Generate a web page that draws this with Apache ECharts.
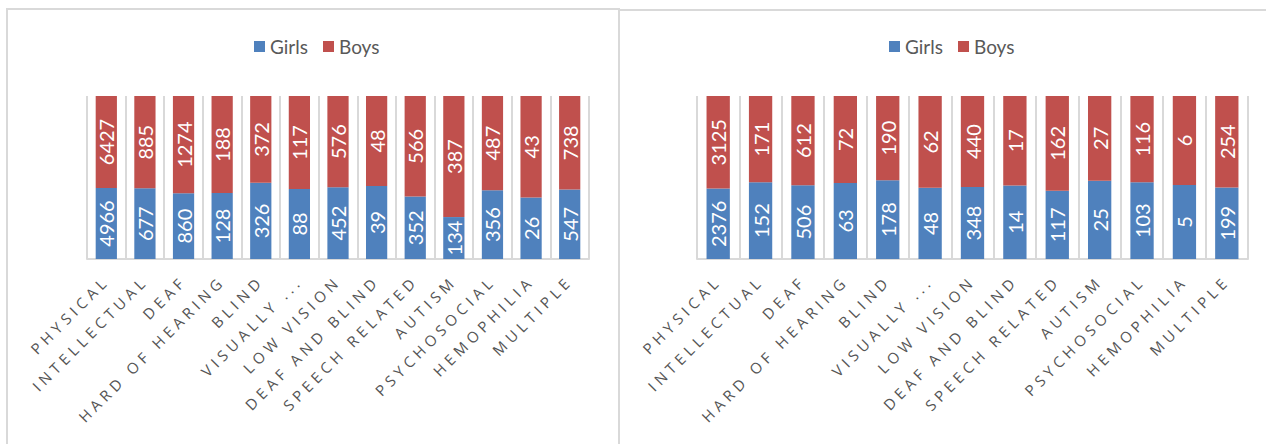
<!DOCTYPE html>
<html>
<head>
<meta charset="utf-8">
<script src="https://cdn.jsdelivr.net/npm/echarts@6/dist/echarts.min.js"></script>
<style>
  html, body { margin: 0; padding: 0; background: #fff; overflow: hidden; }
  #panelLeft { position: absolute; left: 6px; top: 8px; width: 614px; height: 500px; border: 2px solid #d9d9d9; box-sizing: border-box; }
  #panelRight { position: absolute; left: 620px; top: 9px; width: 700px; height: 500px; border-top: 2px solid #d9d9d9; box-sizing: border-box; }
  #chart { position: absolute; left: 0; top: 0; width: 1266px; height: 444px; }
  /* spaced-out category labels */
  #chart text[text-anchor="end"] { letter-spacing: 4.5px; }
</style>
</head>
<body>
<div id="panelLeft"></div>
<div id="panelRight"></div>
<div id="chart"></div>
<script>
const categories = ['PHYSICAL', 'INTELLECTUAL', 'DEAF', 'HARD OF HEARING', 'BLIND', 'VISUALLY ...',
  'LOW VISION', 'DEAF AND BLIND', 'SPEECH RELATED', 'AUTISM', 'PSYCHOSOCIAL', 'HEMOPHILIA', 'MULTIPLE'];

const leftGirls = [4966, 677, 860, 128, 326, 88, 452, 39, 352, 134, 356, 26, 547];
const leftBoys = [6427, 885, 1274, 188, 372, 117, 576, 48, 566, 387, 487, 43, 738];

const rightGirls = [2376, 152, 506, 63, 178, 48, 348, 14, 117, 25, 103, 5, 199];
const rightBoys = [3125, 171, 612, 72, 190, 62, 440, 17, 162, 27, 116, 6, 254];

const BLUE = '#4F81BD';
const RED = '#C0504D';

function share(part, other){
  return part.map((v, i) => v / (v + other[i]) * 100);
}

function makeSeries(name, raw, other, color, idx){
  return {
    name,
    type: 'bar',
    stack: 'total' + idx,
    xAxisIndex: idx,
    yAxisIndex: idx,
    barWidth: '55%',
    itemStyle: { color },
    label: {
      show: true,
      position: 'inside',
      rotate: 90,
      color: '#fff',
      fontFamily: 'Lato',
      fontSize: 20,
      formatter: (p) => raw[p.dataIndex]
    },
    data: share(raw, other)
  }
}

function xAxis(idx){
  return {
    type: 'category',
    gridIndex: idx,
    data: categories,
    axisLine: { lineStyle: { color: '#d9d9d9', width: 2 } },
    axisTick: { show: false },
    splitLine: { show: true, lineStyle: { color: '#d9d9d9', width: 2 } },
    axisLabel: {
      interval: 0,
      rotate: 45,
      margin: 19,
      color: '#555555',
      fontFamily: 'Open Sans',
      fontSize: 15
    }
  }
}

function yAxis(idx){
  return {
    type: 'value',
    gridIndex: idx,
    min: 0,
    max: 100,
    show: false,
    splitLine: { show: false }
  }
}

function legend(left){
  return {
    left,
    top: 32,
    itemWidth: 11,
    itemHeight: 11,
    itemGap: 15,
    icon: 'rect',
    data: ['Girls', 'Boys'],
    textStyle: { color: '#595959', fontFamily: 'Lato', fontSize: 19 }
  }
}

const chart = echarts.init(document.getElementById('chart'), null, { renderer: 'svg' });
chart.setOption({
  animation: false,
  backgroundColor: 'transparent',
  legend: [legend(249), legend(884)],
  grid: [
    { left: 87, right: 1266 - 589, top: 96, bottom: 444 - 259 },
    { left: 697, right: 1266 - 1248, top: 96, bottom: 444 - 259 }
  ],
  xAxis: [xAxis(0), xAxis(1)],
  yAxis: [yAxis(0), yAxis(1)],
  series: [
    makeSeries('Girls', leftGirls, leftBoys, BLUE, 0),
    makeSeries('Boys', leftBoys, leftGirls, RED, 0),
    makeSeries('Girls', rightGirls, rightBoys, BLUE, 1),
    makeSeries('Boys', rightBoys, rightGirls, RED, 1)
  ]
});
</script>
</body>
</html>
